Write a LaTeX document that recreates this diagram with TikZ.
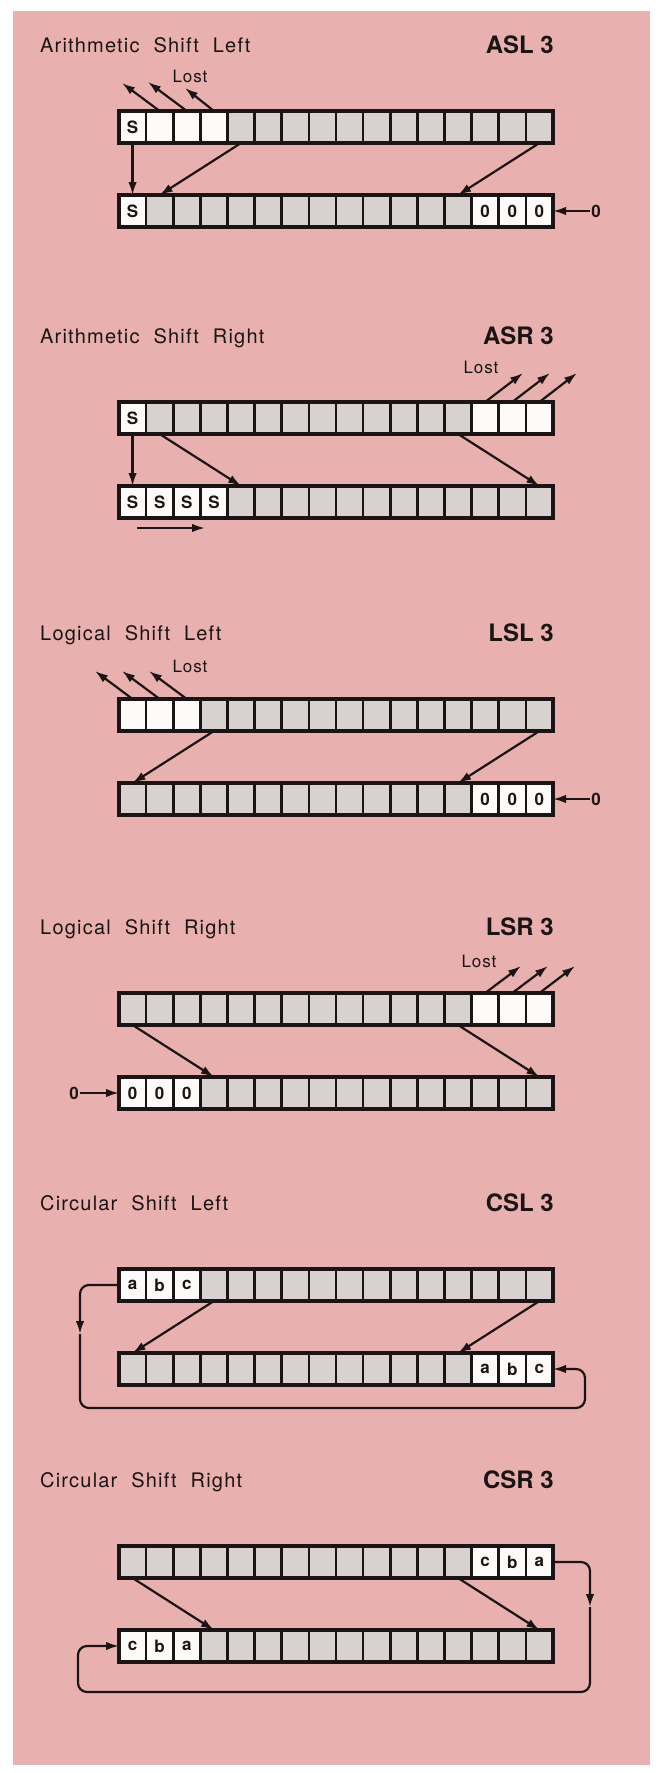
\documentclass[tikz,border=0pt]{standalone}
\usepackage{fontspec}
\setmainfont{TeX Gyre Heros}
\newfontfamily\titlefont[LetterSpace=6]{TeX Gyre Heros}
\newfontfamily\lostfont[LetterSpace=5]{TeX Gyre Heros}
\usetikzlibrary{arrows.meta}
\definecolor{bgpink}{HTML}{E8B1AF}
\definecolor{cellgrey}{HTML}{D7D1D0}
\definecolor{cellwhite}{HTML}{FDFAFA}
\definecolor{ink}{HTML}{1A1414}
\newcommand\ws{\hspace{14pt}}
\newcommand\regcell[5]{\node[#4] (#1#2) at ({119+27.125*(#2+0.5)},{#3+16}) {#5};}
\begin{document}
\begin{tikzpicture}[x=1pt,y=-1pt,
  cellbase/.style={rectangle, draw=ink, line width=2.7pt, minimum width=27.125pt, minimum height=32pt, inner sep=0pt, outer sep=0pt, font=\fontsize{17}{17}\selectfont\bfseries, text=ink},
  cellg/.style={cellbase, fill=cellgrey},
  cellw/.style={cellbase, fill=cellwhite},
  regline/.style={draw=ink, line width=3.3pt},
  arr/.style={draw=ink, line width=2.2pt, -{Latex[length=13pt,width=8.5pt]}},
  title/.style={anchor=base west, inner sep=0pt, font=\titlefont\fontsize{20}{20}\selectfont, text=ink},
  opcode/.style={anchor=base east, inner sep=0pt, font=\fontsize{24}{24}\selectfont\bfseries, text=ink},
  lost/.style={anchor=base, inner sep=0pt, font=\lostfont\fontsize{17}{17}\selectfont, text=ink},
  zero/.style={inner sep=1.5pt, font=\fontsize{17}{17}\selectfont\bfseries, text=ink},
]
\useasboundingbox (0,0) rectangle (663,1773);
\fill[white] (0,0) rectangle (663,1773);
\fill[bgpink] (13,11) rectangle (650,1765);

% ---------------- ASL ----------------
\node[title] (aslT) at (40,52) {Arithmetic\ws Shift\ws Left};
\node[opcode] (aslC) at (554,53) {ASL 3};
\node[lost] (aslL) at (190,82) {Lost};
\foreach \i/\l in {0/S,1/{},2/{},3/{}} {\regcell{aslt}{\i}{111}{cellw}{\l}}
\foreach \i in {4,...,15} {\regcell{aslt}{\i}{111}{cellg}{}}
\draw[regline] (aslt0.north west) rectangle (aslt15.south east);
\regcell{aslb}{0}{195}{cellw}{S}
\foreach \i in {1,...,12} {\regcell{aslb}{\i}{195}{cellg}{}}
\foreach \i in {13,14,15} {\regcell{aslb}{\i}{195}{cellw}{0}}
\draw[regline] (aslb0.north west) rectangle (aslb15.south east);
\coordinate (asll1) at (122,83);
\coordinate (asll2) at (148,82);
\coordinate (asll3) at (185,88);
\draw[arr] (aslt1.north) -- (asll1);
\draw[arr] (aslt2.north) -- (asll2);
\draw[arr] (aslt3.north) -- (asll3);
\draw[arr] (aslt0.south) -- (aslb0.north);
\draw[arr] (aslt4.south) -- (aslb1.north);
\draw[arr] (aslt15.south) -- (aslb12.north);
\node[zero] (aslz) at (596,211) {0};
\draw[arr] (aslz) -- (aslb15.east);

% ---------------- ASR ----------------
\node[title] (asrT) at (40,343) {Arithmetic\ws Shift\ws Right};
\node[opcode] (asrC) at (554,344) {ASR 3};
\node[lost] (asrL) at (481,373) {Lost};
\regcell{asrt}{0}{402}{cellw}{S}
\foreach \i in {1,...,12} {\regcell{asrt}{\i}{402}{cellg}{}}
\foreach \i in {13,14,15} {\regcell{asrt}{\i}{402}{cellw}{}}
\draw[regline] (asrt0.north west) rectangle (asrt15.south east);
\foreach \i in {0,...,3} {\regcell{asrb}{\i}{486}{cellw}{S}}
\foreach \i in {4,...,15} {\regcell{asrb}{\i}{486}{cellg}{}}
\draw[regline] (asrb0.north west) rectangle (asrb15.south east);
\coordinate (asrl1) at (523,373);
\coordinate (asrl2) at (550,373);
\coordinate (asrl3) at (577,373);
\draw[arr] (asrt13.north) -- (asrl1);
\draw[arr] (asrt14.north) -- (asrl2);
\draw[arr] (asrt15.north) -- (asrl3);
\draw[arr] (asrt0.south) -- (asrb0.north);
\draw[arr] (asrt1.south) -- (asrb4.north);
\draw[arr] (asrt12.south) -- (asrb15.north);
\coordinate (asrs1) at (137,528);
\coordinate (asrs2) at (205,528);
\draw[arr] (asrs1) -- (asrs2);

% ---------------- LSL ----------------
\node[title] (lslT) at (40,640) {Logical\ws Shift\ws Left};
\node[opcode] (lslC) at (554,641) {LSL 3};
\node[lost] (lslL) at (190,672) {Lost};
\foreach \i in {0,1,2} {\regcell{lslt}{\i}{699}{cellw}{}}
\foreach \i in {3,...,15} {\regcell{lslt}{\i}{699}{cellg}{}}
\draw[regline] (lslt0.north west) rectangle (lslt15.south east);
\foreach \i in {0,...,12} {\regcell{lslb}{\i}{783}{cellg}{}}
\foreach \i in {13,14,15} {\regcell{lslb}{\i}{783}{cellw}{0}}
\draw[regline] (lslb0.north west) rectangle (lslb15.south east);
\coordinate (lsll1) at (95,671);
\coordinate (lsll2) at (122,671);
\coordinate (lsll3) at (149,671);
\draw[arr] (lslt0.north) -- (lsll1);
\draw[arr] (lslt1.north) -- (lsll2);
\draw[arr] (lslt2.north) -- (lsll3);
\draw[arr] (lslt3.south) -- (lslb0.north);
\draw[arr] (lslt15.south) -- (lslb12.north);
\node[zero] (lslz) at (596,799) {0};
\draw[arr] (lslz) -- (lslb15.east);

% ---------------- LSR ----------------
\node[title] (lsrT) at (40,934) {Logical\ws Shift\ws Right};
\node[opcode] (lsrC) at (554,935) {LSR 3};
\node[lost] (lsrL) at (479,967) {Lost};
\foreach \i in {0,...,12} {\regcell{lsrt}{\i}{993}{cellg}{}}
\foreach \i in {13,14,15} {\regcell{lsrt}{\i}{993}{cellw}{}}
\draw[regline] (lsrt0.north west) rectangle (lsrt15.south east);
\foreach \i in {0,1,2} {\regcell{lsrb}{\i}{1077}{cellw}{0}}
\foreach \i in {3,...,15} {\regcell{lsrb}{\i}{1077}{cellg}{}}
\draw[regline] (lsrb0.north west) rectangle (lsrb15.south east);
\coordinate (lsrl1) at (521,966);
\coordinate (lsrl2) at (548,966);
\coordinate (lsrl3) at (575,966);
\draw[arr] (lsrt13.north) -- (lsrl1);
\draw[arr] (lsrt14.north) -- (lsrl2);
\draw[arr] (lsrt15.north) -- (lsrl3);
\draw[arr] (lsrt0.south) -- (lsrb3.north);
\draw[arr] (lsrt12.south) -- (lsrb15.north);
\node[zero] (lsrz) at (74,1093) {0};
\draw[arr] (lsrz) -- (lsrb0.west);

% ---------------- CSL ----------------
\node[title] (cslT) at (40,1210) {Circular\ws Shift\ws Left};
\node[opcode] (cslC) at (554,1211) {CSL 3};
\foreach \i/\l in {0/a,1/b,2/c} {\regcell{cslt}{\i}{1269}{cellw}{\l}}
\foreach \i in {3,...,15} {\regcell{cslt}{\i}{1269}{cellg}{}}
\draw[regline] (cslt0.north west) rectangle (cslt15.south east);
\foreach \i in {0,...,12} {\regcell{cslb}{\i}{1353}{cellg}{}}
\foreach \i/\l in {13/a,14/b,15/c} {\regcell{cslb}{\i}{1353}{cellw}{\l}}
\draw[regline] (cslb0.north west) rectangle (cslb15.south east);
\draw[arr] (cslt3.south) -- (cslb0.north);
\draw[arr] (cslt15.south) -- (cslb12.north);
\coordinate (csll1) at (80,1285);
\coordinate (csll2) at (80,1334);
\coordinate (csll3) at (80,1408);
\coordinate (csll4) at (585,1408);
\coordinate (csll5) at (585,1369);
\draw[arr, rounded corners=9pt] (cslt0.west) -- (csll1) -- (csll2);
\draw[arr, rounded corners=9pt] (csll2) -- (csll3) -- (csll4) -- (csll5) -- (cslb15.east);

% ---------------- CSR ----------------
\node[title] (csrT) at (40,1487) {Circular\ws Shift\ws Right};
\node[opcode] (csrC) at (554,1488) {CSR 3};
\foreach \i in {0,...,12} {\regcell{csrt}{\i}{1546}{cellg}{}}
\foreach \i/\l in {13/c,14/b,15/a} {\regcell{csrt}{\i}{1546}{cellw}{\l}}
\draw[regline] (csrt0.north west) rectangle (csrt15.south east);
\foreach \i/\l in {0/c,1/b,2/a} {\regcell{csrb}{\i}{1630}{cellw}{\l}}
\foreach \i in {3,...,15} {\regcell{csrb}{\i}{1630}{cellg}{}}
\draw[regline] (csrb0.north west) rectangle (csrb15.south east);
\draw[arr] (csrt0.south) -- (csrb3.north);
\draw[arr] (csrt12.south) -- (csrb15.north);
\coordinate (csrl1) at (590,1562);
\coordinate (csrl2) at (590,1607);
\coordinate (csrl3) at (590,1692);
\coordinate (csrl4) at (78,1692);
\coordinate (csrl5) at (78,1646);
\draw[arr, rounded corners=9pt] (csrt15.east) -- (csrl1) -- (csrl2);
\draw[arr, rounded corners=9pt] (csrl2) -- (csrl3) -- (csrl4) -- (csrl5) -- (csrb0.west);
\end{tikzpicture}
\end{document}
